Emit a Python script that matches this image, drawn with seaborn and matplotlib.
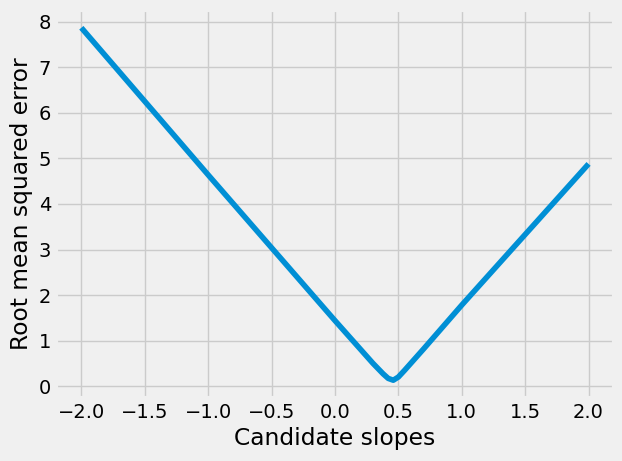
import matplotlib
matplotlib.use("Agg")
import matplotlib.pyplot as plt
import pandas as pd
import seaborn as sns

# values
slopes = [-2.0, -1.0, 0.0, 0.3, 0.38, 0.42, 0.46, 0.50, 0.55, 0.7, 1.0, 1.5, 2.0]
rmse = [7.87, 4.64, 1.44, 0.50, 0.27, 0.17, 0.13, 0.20, 0.35, 0.82, 1.78, 3.33, 4.88]

plt.style.use("fivethirtyeight")

df = pd.DataFrame({"Candidate slopes": slopes, "Root mean squared error": rmse})

fig, ax = plt.subplots(figsize=(6.22, 4.61), dpi=100)
fig.patch.set_facecolor("#f0f0f0")
fig.subplots_adjust(left=0.090, right=0.987, bottom=0.137, top=0.978)
sns.lineplot(data=df, x="Candidate slopes", y="Root mean squared error",
             ax=ax, color="#008fd5", linewidth=4)
ax.set_xticks([-2.0, -1.5, -1.0, -0.5, 0.0, 0.5, 1.0, 1.5, 2.0])
ax.set_xlabel("Candidate slopes")
ax.set_ylabel("Root mean squared error")
fig.savefig("out.png", facecolor=fig.get_facecolor())
